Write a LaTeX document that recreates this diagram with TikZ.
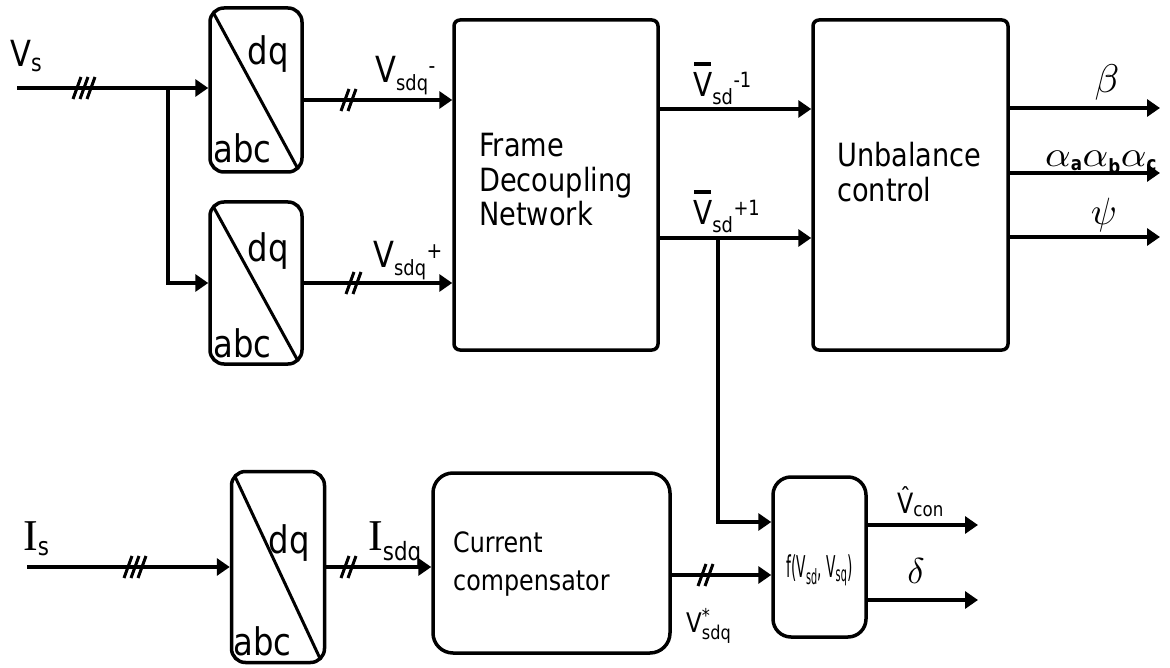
\documentclass[tikz,border=0pt]{standalone}
\usepackage{fontspec}
\setmainfont[FakeStretch=0.85]{DejaVu Sans}
\newfontfamily\serifI{Liberation Serif}
\usetikzlibrary{arrows.meta}
\newcommand{\fsz}[1]{\fontsize{#1}{#1}\selectfont}
\newcommand{\gk}[3]{\scalebox{#1}[#2]{\fontsize{10}{12}\selectfont$#3$}}
\newcommand{\barV}{\rlap{\hspace{0.03em}\raisebox{0.95em}{\rule{0.52em}{0.12em}}}V}
\newcommand{\sbx}[2]{\textsubscript{\fsz{#1}#2}}
\newcommand{\spx}[2]{\textsuperscript{\fsz{#1}#2}}
\begin{document}
\begin{tikzpicture}[x=1pt,y=-1pt,
  conn/.style={line width=4.5pt},
  arr/.style={conn,-{Triangle[length=13pt,width=17pt]}},
  blk/.style={draw,line width=3.5pt,rounded corners=6pt,inner sep=0pt},
  conv/.style={draw,line width=3.5pt,rounded corners=14pt,inner sep=0pt,minimum width=92pt,
    path picture={\draw[line width=3pt] ([shift={(3pt,-4pt)}]path picture bounding box.north west) -- ([shift={(-4pt,3pt)}]path picture bounding box.south east);}},
  lbl/.style={inner sep=0pt,anchor=base west,font=\fsz{36}},
  lblb/.style={inner sep=0pt,anchor=base west,font=\fsz{33}},
  convtxt/.style={inner sep=0pt,font=\fsz{38}},
  boxtxt/.style={inner sep=0pt,anchor=base west,font=\fsz{32}},
  cctxt/.style={inner sep=0pt,anchor=base west,font=\fsz{28}},
  greek/.style={inner sep=0pt},
  tick/.pic={\draw[line width=3pt] (-4,11) -- (4,-11);}
]
\useasboundingbox (0,0) rectangle (1170,668);

% blocks
\node[conv,minimum height=164pt] (c1) at (256,90) {};
\node[conv,minimum height=162pt] (c2) at (256,283) {};
\node[conv,minimum height=191pt,minimum width=93pt] (c3) at (278,567) {};
\node[blk,minimum width=204pt,minimum height=330pt] (fdn) at (556,185) {};
\node[blk,minimum width=195pt,minimum height=330pt] (uc) at (910.5,185) {};
\node[blk,rounded corners=20pt,minimum width=237pt,minimum height=180pt] (cc) at (551.5,563) {};
\node[blk,rounded corners=18pt,minimum width=93pt,minimum height=160pt] (fb) at (819.5,557) {};

% converter texts
\node[convtxt,anchor=base] (dq1) at (268,65) {dq};
\node[convtxt,anchor=base west] (abc1) at (213,163) {abc};
\node[convtxt,anchor=base] (dq2) at (268,262) {dq};
\node[convtxt,anchor=base west] (abc2) at (213,357) {abc};
\node[convtxt,anchor=base] (dq3) at (289,553) {dq};
\node[convtxt,anchor=base west] (abc3) at (233,655) {abc};

% block texts
\node[boxtxt] (t1) at (479,157) {Frame};
\node[boxtxt] (t2) at (479,192) {Decoupling};
\node[boxtxt] (t3) at (479,226) {Network};
\node[boxtxt] (t4) at (837,167) {Unbalance};
\node[boxtxt] (t5) at (837,202) {control};
\node[cctxt] (t6) at (453,552) {Current};
\node[cctxt] (t7) at (453,590) {compensator};
\node[inner sep=0pt,font=\fsz{30}] (t8) at (819.5,570) {\scalebox{0.54}[1]{f(V\textsubscript{sd}, V\textsubscript{sq})}};

% connectors top
\coordinate (vsin) at (17,88);
\draw[arr] (vsin) -- (vsin -| c1.west);
\coordinate (br1) at (168,88);
\draw[arr] (br1) |- (c2.west);
\pic at (77,88) {tick}; \pic at (84,88) {tick}; \pic at (91,88) {tick};
\draw[arr] ([yshift=-10pt]c1.east) coordinate (o1) -- (o1 -| fdn.west);
\pic at (345,100) {tick}; \pic at (352,100) {tick};
\draw[arr] (c2.east) -- (c2.east -| fdn.west);
\pic at (350,283) {tick}; \pic at (357,283) {tick};
\draw[arr] ([yshift=76pt]fdn.east) coordinate (o3) -- (o3 -| uc.west);
\draw[arr] ([yshift=-53pt]fdn.east) coordinate (o4) -- (o4 -| uc.west);
\coordinate (br2) at (718,238);
\draw[arr] (br2) |- ([yshift=35pt]fb.west);
\coordinate (e1) at (1160,0);
\draw[arr] ([yshift=77pt]uc.east) coordinate (o5) -- (o5 -| e1);
\draw[arr] ([yshift=12pt]uc.east) coordinate (o6) -- (o6 -| e1);
\draw[arr] ([yshift=-52pt]uc.east) coordinate (o7) -- (o7 -| e1);

% connectors bottom
\coordinate (isin) at (27,567);
\draw[arr] (isin) -- (isin -| c3.west);
\pic at (128,567) {tick}; \pic at (135,567) {tick}; \pic at (142,567) {tick};
\draw[arr] (c3.east) -- (c3.east -| cc.west);
\pic at (345,567) {tick}; \pic at (352,567) {tick};
\draw[arr] ([yshift=-12pt]cc.east) coordinate (o9) -- (o9 -| fb.west);
\pic at (702,575) {tick}; \pic at (709,575) {tick};
\coordinate (e2) at (978,0);
\draw[arr] ([yshift=32pt]fb.east) coordinate (o10) -- (o10 -| e2);
\draw[arr] ([yshift=-43pt]fb.east) coordinate (o11) -- (o11 -| e2);

% labels
\node[lbl] (lvs) at (10,67) {V\sbx{24}{s}};
\node[lbl] (lvm) at (375,83) {V\sbx{21}{sdq}\spx{22}{-}};
\node[lbl] (lvp) at (373,268) {V\sbx{21}{sdq}\spx{22}{+}};
\node[lblb] (lvb1) at (693,97) {\barV\sbx{21}{sd}\spx{21}{-1}};
\node[lblb] (lvb2) at (693,225) {\barV\sbx{21}{sd}\spx{21}{+1}};
\node[greek,anchor=base] (lbeta) at (1107,93) {\gk{4}{4}{\beta}};
\node[greek,anchor=base west,font=\fsz{28}] (lalpha) at (1045,167) {\gk{4}{3.6}{\alpha}\textsubscript{\textbf{a}}\gk{4}{3.6}{\alpha}\textsubscript{\textbf{b}}\gk{4}{3.6}{\alpha}\textsubscript{\textbf{c}}};
\node[greek] (lpsi) at (1104,215) {\gk{3.8}{3.8}{\psi}};
\node[lbl] (lis) at (23,550) {{\serifI\fsz{44}I}\textsubscript{s}};
\node[lbl] (lisdq) at (368,550) {{\serifI\fsz{44}I}\textsubscript{sdq}};
\node[inner sep=0pt,anchor=base west,font=\fsz{27}] (lvstar) at (686,632) {V$^{\mbox{\fsz{19}*}}_{\mbox{\fsz{19}sdq}}$};
\node[inner sep=0pt,anchor=base west,font=\fsz{28}] (lvcon) at (897,513) {\^{V}\textsubscript{con}};
\node[greek] (ldelta) at (916,571) {\gk{3.6}{3.6}{\delta}};
\end{tikzpicture}
\end{document}
